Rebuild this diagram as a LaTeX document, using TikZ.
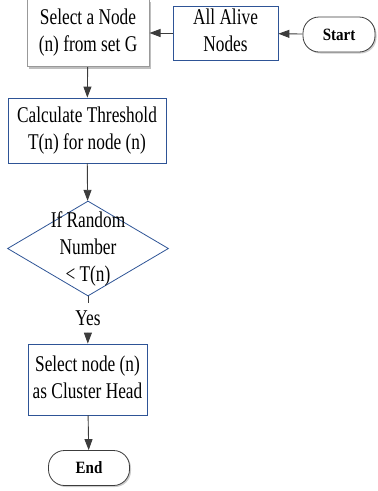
\documentclass[tikz,border=0pt]{standalone}
\usepackage{fontspec}
\setmainfont{Liberation Serif}
\usetikzlibrary{shapes.geometric,shadows,arrows.meta}
\definecolor{boxblue}{RGB}{46,84,150}
\definecolor{linegray}{RGB}{60,60,60}
\newcommand{\stxt}[1]{\scalebox{1}[1.3]{\begin{tabular}{@{}c@{}}#1\end{tabular}}}
\newcommand{\btxt}[1]{\scalebox{1}[1.15]{#1}}
\begin{document}
\begin{tikzpicture}[x=1pt,y=-1pt,
  font=\fontsize{17.3}{20.8}\selectfont,
  procbox/.style={draw=boxblue,line width=0.8pt,fill=white,align=center,inner sep=0pt},
  graybox/.style={draw=gray!80,line width=1pt,fill=white,align=center,inner sep=0pt,
     drop shadow={shadow xshift=2pt,shadow yshift=-2pt,fill=gray!50,opacity=1}},
  term/.style={draw=linegray,line width=0.8pt,rounded corners=16pt,fill=white,inner sep=0pt,
     font=\fontsize{15}{16}\selectfont\bfseries,
     drop shadow={shadow xshift=1.5pt,shadow yshift=-1.5pt,fill=gray!40,opacity=1}},
  decis/.style={draw=boxblue,line width=0.8pt,diamond,aspect=1.7,align=center,inner sep=0pt},
  arr/.style={draw=linegray,line width=0.9pt,-{Triangle[length=11pt,width=8pt]}}]
\useasboundingbox (0,0) rectangle (378,491);
\node[graybox,minimum width=122pt,minimum height=67pt] (sel) at (88,33) {\stxt{Select a Node\\(n) from set G}};
\node[procbox,minimum width=105pt,minimum height=50pt] (alive) at (225.5,33) {\stxt{All Alive\\Nodes}};
\node[term,minimum width=72pt,minimum height=35pt] (start) at (339,34.5) {\btxt{Start}};
\node[procbox,minimum width=158pt,minimum height=65pt] (calc) at (87,130.5) {\stxt{Calculate Threshold\\T(n) for node (n)}};
\node[decis,minimum width=161pt,minimum height=95pt] (dec) at (88,248.5) {};
\node (dectxt) at (88,249) {\stxt{If Random\\Number\\{<} T(n)}};
\node (yes) at (88,320) {\stxt{Yes}};
\node[procbox,minimum width=119pt,minimum height=71pt] (head) at (87.5,379.5) {\stxt{Select node (n)\\as Cluster Head}};
\node[term,minimum width=81pt,minimum height=35pt] (end) at (89,468) {\btxt{End}};
\draw[arr] (start) -- (alive);
\draw[arr] (alive) -- (sel);
\draw[arr] (sel) -- (calc);
\draw[arr] (calc) -- (dec);
\draw[draw=linegray,line width=0.9pt] (dec.south) -- (yes.north);
\draw[arr] (yes) -- (head);
\draw[arr] (head) -- (end);
\end{tikzpicture}
\end{document}
